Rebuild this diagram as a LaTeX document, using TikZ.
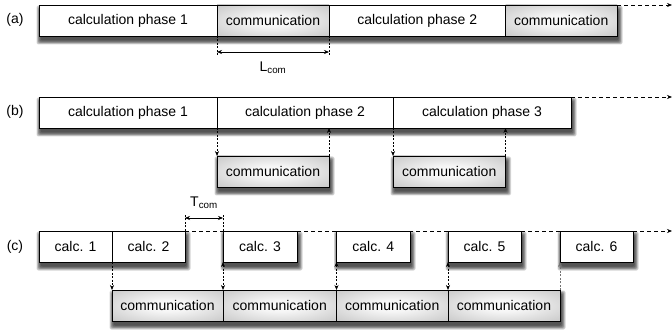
\documentclass[tikz,border=0pt]{standalone}
\usepackage{fontspec}
\setmainfont{Liberation Sans}
\usetikzlibrary{arrows.meta,backgrounds}
\pgfdeclareradialshading{commshade}{\pgfpoint{0bp}{0bp}}{color(0bp)=(gray!2); color(10bp)=(gray!8); color(50bp)=(gray!62); color(72bp)=(gray!78)}
\newcommand\boxshadow[2]{%
  \foreach \e in {4,3.2,2.4,1.6,0.8,0}{%
    \fill[black, opacity=0.17, rounded corners=2pt]
      ([xshift=1.5pt-\e pt, yshift=\e pt-4.5pt]#1) rectangle ([xshift=1.5pt+\e pt, yshift=-4.5pt-\e pt]#2);
  }%
}
\begin{document}
\begin{tikzpicture}[x=1pt,y=-1pt,
  >={Stealth[length=5pt,width=4pt]},
  box/.style={draw, line width=0.9pt, inner sep=0pt, outer sep=0pt, anchor=north west,
    minimum height=31pt, font=\fontsize{14}{16}\selectfont},
  calcbox/.style={box, fill=white},
  commbox/.style={box, shading=commshade},
  lbl/.style={font=\fontsize{14}{16}\selectfont, inner sep=0pt},
  longdash/.style={dash pattern=on 4pt off 3pt, line width=0.7pt},
  shortdash/.style={dash pattern=on 2pt off 1.5pt, line width=0.65pt}
]
\useasboundingbox (0,0) rectangle (672,331);

% ---------- (a)
\node[lbl] (la) at (15,20) {(a)};
\node[calcbox, minimum width=178pt] (a1) at (39,5) {calculation phase 1};
\node[commbox, minimum width=112pt] (a2) at (217,5) {communication};
\node[calcbox, minimum width=176.5pt] (a3) at (329,5) {calculation phase 2};
\node[commbox, minimum width=111.5pt] (a4) at (505.5,5) {communication};
\coordinate (aend) at (672,5);
\draw[longdash,->] (a4.north east) -- (aend);

\coordinate (lta) at (217,55);
\coordinate (ltb) at (329,55);
\draw[shortdash] (a2.south west) -- (lta);
\draw[shortdash] (a2.south east) -- (ltb);
\coordinate (lza) at (217,52);
\coordinate (lzb) at (329,52);
\draw[<->, line width=0.65pt] (lza) -- (lzb);
\node[lbl] (lcom) at (273,68) {L\textsubscript{com}};

% ---------- (b)
\node[lbl] (lb) at (15,112) {(b)};
\node[calcbox, minimum width=178pt] (b1) at (39,97) {calculation phase 1};
\node[calcbox, minimum width=176pt] (b2) at (217,97) {calculation phase 2};
\node[calcbox, minimum width=178pt] (b3) at (393,97) {calculation phase 3};
\node[commbox, minimum width=112pt] (bc1) at (217,156) {communication};
\node[commbox, minimum width=112.5pt] (bc2) at (393,156) {communication};
\coordinate (bend) at (672,97);
\draw[longdash,->] (b3.north east) -- (bend);
\draw[shortdash,->] (b2.south west) -- (bc1.north west);
\draw[shortdash,->] (bc1.north east) -- (bc1.north east |- b2.south);
\draw[shortdash,->] (b3.south west) -- (bc2.north west);
\draw[shortdash,->] (bc2.north east) -- (bc2.north east |- b3.south);

% ---------- (c)
\node[lbl] (lc) at (15,247) {(c)};
\coordinate (cend) at (672,231);
\draw[longdash,->] (185,231) -- (cend);
\node[calcbox, minimum width=73pt] (c1) at (39,231) {calc. 1};
\node[calcbox, minimum width=73pt] (c2) at (112,231) {calc. 2};
\node[calcbox, minimum width=74pt] (c3) at (223,231) {calc. 3};
\node[calcbox, minimum width=73.5pt] (c4) at (336.5,231) {calc. 4};
\node[calcbox, minimum width=73pt] (c5) at (448,231) {calc. 5};
\node[calcbox, minimum width=73pt] (c6) at (560,231) {calc. 6};
\node[commbox, minimum width=111pt] (cc1) at (112,290) {communication};
\node[commbox, minimum width=113.5pt] (cc2) at (223,290) {communication};
\node[commbox, minimum width=111.5pt] (cc3) at (336.5,290) {communication};
\node[commbox, minimum width=112pt] (cc4) at (448,290) {communication};

\draw[shortdash,->] (c2.south west) -- (cc1.north west);
\draw[shortdash,<->] (c3.south west) -- (cc2.north west);
\draw[shortdash,<->] (c4.south west) -- (cc3.north west);
\draw[shortdash,<->] (c5.south west) -- (cc4.north west);
\draw[shortdash,->,black!55] (cc4.north east) -- (c6.south west);

\coordinate (tta) at (185,214);
\coordinate (ttb) at (223,214);
\draw[shortdash] (c2.north east) -- (tta);
\draw[shortdash] (c3.north west) -- (ttb);
\coordinate (tza) at (185,218);
\coordinate (tzb) at (223,218);
\draw[<->, line width=0.65pt] (tza) -- (tzb);
\node[lbl] (tcom) at (204,203) {T\textsubscript{com}};

% ---------- shadows
\begin{scope}[on background layer]
  \boxshadow{a1.north west}{a4.south east}
  \boxshadow{b1.north west}{b3.south east}
  \boxshadow{bc1.north west}{bc1.south east}
  \boxshadow{bc2.north west}{bc2.south east}
  \boxshadow{c1.north west}{c2.south east}
  \boxshadow{c3.north west}{c3.south east}
  \boxshadow{c4.north west}{c4.south east}
  \boxshadow{c5.north west}{c5.south east}
  \boxshadow{c6.north west}{c6.south east}
  \boxshadow{cc1.north west}{cc4.south east}
\end{scope}
\end{tikzpicture}
\end{document}
